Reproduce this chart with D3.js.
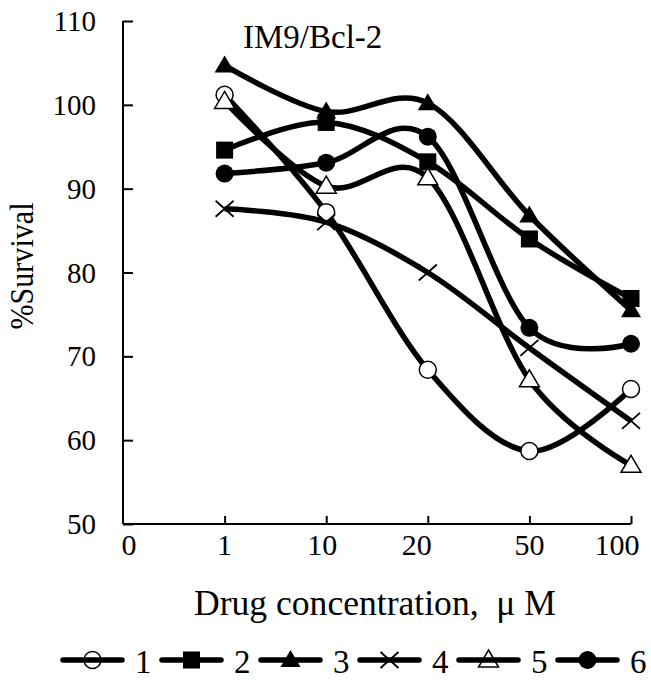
<!DOCTYPE html>
<html>
<head>
<meta charset="utf-8">
<script src="https://cdn.jsdelivr.net/npm/d3@7"></script>
<style>
  body { margin: 0; background: #fff; }
  svg text { font-family: "Liberation Serif", "DejaVu Serif", serif; fill: #000; }
</style>
</head>
<body>
<svg id="chart" width="651" height="684"></svg>
<script>
var doses = ["0", "1", "10", "20", "50", "100"];
var seriesNames = ["1", "2", "3", "4", "5", "6"];
var markers = ["circleOpen", "square", "triangle", "cross", "triangleOpen", "circle"];
var yTicks = [50, 60, 70, 80, 90, 100, 110];

// survival at 1, 10, 20, 50, 100 uM
var s1 = [101.2, 87.2, 68.4, 58.7, 66.1];
var s2 = [94.6, 97.9, 93.2, 84.0, 76.9];
var s3 = [104.7, 99.2, 100.2, 86.8, 75.5];
var s4 = [87.6, 86.0, 80.0, 71.0, 62.3];
var s5 = [100.4, 90.3, 91.3, 67.2, 57.0];
var s6 = [91.8, 93.1, 96.2, 73.4, 71.5];
var allSeries = [s1, s2, s3, s4, s5, s6];
var dataDoses = ["1", "10", "20", "50", "100"];

var svg = d3.select("#chart");

var x = d3.scalePoint().domain(doses).range([123, 631]);
var y = d3.scaleLinear().domain([50, 110]).range([524, 21]);

// axes
var yAxis = svg.append("g").attr("transform", "translate(123,0)")
  .call(d3.axisRight(y).tickValues(yTicks).tickSize(10).tickFormat(""));
yAxis.select(".domain").attr("d", "M0," + y(110) + "V" + y(50));
var xAxis = svg.append("g").attr("transform", "translate(0,524)")
  .call(d3.axisTop(x).tickValues(doses.slice(1)).tickSize(8).tickFormat(""));
xAxis.select(".domain").attr("d", "M123,0H" + x("100"));
svg.selectAll(".domain, .tick line").attr("stroke", "#000").attr("stroke-width", 2);

svg.append("g").selectAll("text").data(yTicks).enter().append("text")
  .attr("x", 96).attr("y", function(d){ return y(d) + 10; })
  .attr("text-anchor", "end").attr("font-size", 29)
  .text(function(d){ return d; });

// the original labels sit a little off their ticks
var labelNudge = {"0": 6, "1": 0, "10": -4, "20": -11, "50": 0, "100": -14};
svg.append("g").selectAll("text").data(doses).enter().append("text")
  .attr("x", function(d){ return x(d) + labelNudge[d]; }).attr("y", 555)
  .attr("text-anchor", "middle").attr("font-size", 30)
  .text(function(d){ return d; });

// titles
svg.append("text").attr("x", 243).attr("y", 48).attr("font-size", 33).text("IM9/Bcl-2");
svg.append("text").attr("x", 375).attr("y", 615).attr("text-anchor", "middle")
  .attr("font-size", 35).attr("textLength", 362).attr("lengthAdjust", "spacingAndGlyphs")
  .style("white-space", "pre").text("Drug concentration,  \u03bc M");
svg.append("text").attr("transform", "translate(33,266) rotate(-90)")
  .attr("text-anchor", "middle").attr("font-size", 34)
  .attr("textLength", 127).attr("lengthAdjust", "spacingAndGlyphs")
  .text("%Survival");

// lines
var line = d3.line()
  .x(function(d, i){ return x(dataDoses[i]); })
  .y(function(d){ return y(d); })
  .curve(d3.curveCardinal.tension(0));

svg.append("g").selectAll("path").data(allSeries).enter().append("path")
  .attr("d", line).attr("fill", "none").attr("stroke", "#000")
  .attr("stroke-width", 5.5).attr("stroke-linejoin", "round");

function drawMarker(g, type, cx, cy, fillOpen) {
  var open = fillOpen || "#fff";
  switch (type) {
    case "circleOpen":
      g.append("circle").attr("cx", cx).attr("cy", cy).attr("r", 8.5)
        .attr("fill", open).attr("stroke", "#000").attr("stroke-width", 1.5);
      break;
    case "circle":
      g.append("circle").attr("cx", cx).attr("cy", cy).attr("r", 9).attr("fill", "#000");
      break;
    case "square":
      g.append("rect").attr("x", cx - 8.5).attr("y", cy - 8.5).attr("width", 17).attr("height", 17)
        .attr("fill", "#000");
      break;
    case "triangle":
      g.append("path").attr("d", "M" + cx + "," + (cy - 10) + "L" + (cx + 10) + "," + (cy + 7) + "L" + (cx - 10) + "," + (cy + 7) + "Z")
        .attr("fill", "#000");
      break;
    case "triangleOpen":
      g.append("path").attr("d", "M" + cx + "," + (cy - 10) + "L" + (cx + 10) + "," + (cy + 7) + "L" + (cx - 10) + "," + (cy + 7) + "Z")
        .attr("fill", open).attr("stroke", "#000").attr("stroke-width", 1.5);
      break;
    case "cross":
      g.append("path").attr("d", "M" + (cx - 9) + "," + (cy - 8) + "L" + (cx + 9) + "," + (cy + 8) + "M" + (cx + 9) + "," + (cy - 8) + "L" + (cx - 9) + "," + (cy + 8))
        .attr("fill", "none").attr("stroke", "#000").attr("stroke-width", 1.8);
      break;
  }
}

var pts = svg.append("g");
allSeries.forEach(function(s, k){
  s.forEach(function(v, i){
    drawMarker(pts, markers[k], x(dataDoses[i]), y(v));
  });
});

// legend
var legend = svg.append("g");
seriesNames.forEach(function(name, k){
  var x0 = 63 + k * 99;
  legend.append("line").attr("x1", x0).attr("x2", x0 + 59).attr("y1", 660).attr("y2", 660)
    .attr("stroke", "#000").attr("stroke-width", 5.5).attr("stroke-linecap", "round");
  drawMarker(legend, markers[k], x0 + 29.5, 660, "none");
  legend.append("text").attr("x", x0 + 72).attr("y", 673).attr("font-size", 33).text(name);
});
</script>
</body>
</html>
